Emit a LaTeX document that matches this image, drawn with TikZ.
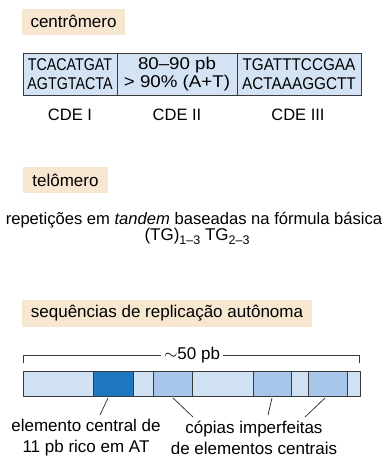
\documentclass[tikz,border=0pt]{standalone}
\usepackage{fontspec}
\setmainfont{Liberation Sans}
\definecolor{beige}{HTML}{F7E7D1}
\definecolor{tabfill}{HTML}{D3E3F4}
\definecolor{lightb}{HTML}{D2E2F5}
\definecolor{medb}{HTML}{A6C5E8}
\definecolor{darkb}{HTML}{1F77C0}
\definecolor{linec}{HTML}{3A3A3A}
\begin{document}
\begin{tikzpicture}[x=1pt,y=-1pt,
  lbl/.style={fill=beige, inner sep=0pt, minimum height=26pt, font=\fontsize{17}{20}\selectfont},
  txt/.style={font=\fontsize{17}{21}\selectfont, inner sep=0pt, align=center},
  cell/.style={draw=linec, fill=tabfill, line width=0.9pt, inner sep=0pt, minimum height=42pt, font=\fontsize{17}{18.5}\selectfont, align=center},
  seg/.style={draw=linec, line width=0.9pt, inner sep=0pt, minimum height=25pt, anchor=north west},
  leader/.style={draw=linec, line width=0.8pt},
  brack/.style={draw=linec, line width=0.8pt}
  ]
\useasboundingbox (0,0) rectangle (386,459);
% centromero
\node[lbl, minimum width=103pt] (lc) at (73.5,21.5) {centrômero};
\node[cell, minimum width=94pt] (c1) at (70,74) {\scalebox{0.84}[1]{TCACATGAT}\\\scalebox{0.84}[1]{AGTGTACTA}};
\node[cell, minimum width=120pt] (c2) at (177,74) {\scalebox{1.1}[1]{80–90 pb}\\\scalebox{1.1}[1]{> 90\% (A+T)}};
\node[cell, minimum width=124pt] (c3) at (299,74) {\scalebox{0.9}[1]{TGATTTCCGAA}\\\scalebox{0.9}[1]{ACTAAAGGCTT}};
\node[txt, font=\fontsize{16.5}{20}\selectfont] (d1) at (70,114.5) {CDE I};
\node[txt, font=\fontsize{16.5}{20}\selectfont] (d2) at (177,114.5) {CDE II};
\node[txt, font=\fontsize{16.5}{20}\selectfont] (d3) at (298,114.5) {CDE III};
% telomero
\node[lbl, minimum width=85pt] (lt) at (65.5,180) {telômero};
\node[txt, anchor=base, font=\fontsize{16.6}{20}\selectfont] (t1) at (194,224) {repetições em \textit{tandem} baseadas na fórmula básica};
\node[txt, anchor=base] (t2) at (197,240) {(TG)\raisebox{-4.5pt}{\fontsize{12.5}{12}\selectfont 1–3} TG\raisebox{-4.5pt}{\fontsize{12.5}{12}\selectfont 2–3}};
% ARS
\node[lbl, minimum width=290pt, minimum height=27pt] (la) at (167,313.5) {sequências de replicação autônoma};
\coordinate (bl) at (23,363);
\coordinate (br) at (359,363);
\node[txt, fill=white, inner xsep=3pt] (bt) at (192,355) {$\sim$50 pb};
\draw[brack] (bl) -- (23,355) -- (bt.west);
\draw[brack] (bt.east) -- (359,355) -- (br);
\node[seg, fill=lightb, minimum width=70pt] (s1) at (23,371) {};
\node[seg, fill=darkb, minimum width=40pt] (s2) at (93,371) {};
\node[seg, fill=lightb, minimum width=20pt] (s3) at (133,371) {};
\node[seg, fill=medb, minimum width=39pt] (s4) at (153,371) {};
\node[seg, fill=lightb, minimum width=61pt] (s5) at (192,371) {};
\node[seg, fill=medb, minimum width=38pt] (s6) at (253,371) {};
\node[seg, fill=lightb, minimum width=17pt] (s7) at (291,371) {};
\node[seg, fill=medb, minimum width=39pt] (s8) at (308,371) {};
\node[seg, fill=lightb, minimum width=13pt] (s9) at (347,371) {};
\node[txt] (e1) at (86,437.5) {elemento central de\\11 pb rico em AT};
\node[txt] (e2) at (254,437.5) {cópias imperfeitas\\de elementos centrais};
\coordinate (a1) at (108,398); \coordinate (b1) at (100,415);
\coordinate (a2) at (173,398); \coordinate (b2) at (193,417);
\coordinate (a3) at (272,398); \coordinate (b3) at (268,415);
\coordinate (a4) at (325,398); \coordinate (b4) at (305,417);
\draw[leader] (a1) -- (b1);
\draw[leader] (a2) -- (b2);
\draw[leader] (a3) -- (b3);
\draw[leader] (a4) -- (b4);
\end{tikzpicture}
\end{document}
